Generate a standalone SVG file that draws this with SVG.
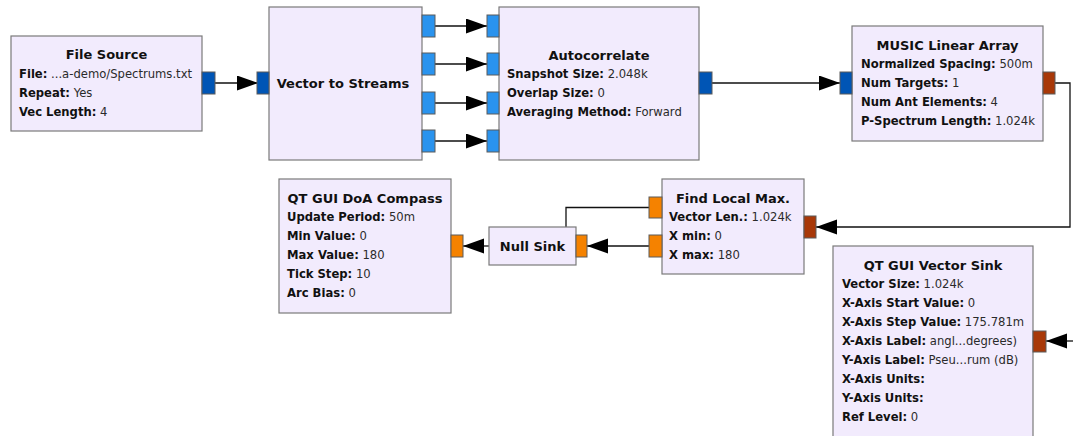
<svg xmlns="http://www.w3.org/2000/svg" width="1073" height="436" viewBox="0 0 1073 436">
<defs>
<style>
.blk{fill:#F2EBFD;stroke:#7a7a7a;stroke-width:1.2}
.p{stroke:#5a5a5a;stroke-width:1}
.cv{fill:#0055B5}
.cs{fill:#2A93EE}
.fs{fill:#F58200}
.fv{fill:#A83808}
.t{font-family:"DejaVu Sans",sans-serif;font-size:13px;font-weight:bold;fill:#111;text-anchor:middle;dominant-baseline:central}
.k{font-family:"DejaVu Sans",sans-serif;font-size:11.6px;fill:#2a2a2a;dominant-baseline:central}
.k tspan.b{font-weight:bold;fill:#111}
.c{fill:none;stroke:#111;stroke-width:1.3}
</style>
<marker id="ah" markerUnits="userSpaceOnUse" markerWidth="22" markerHeight="16" refX="21" refY="7.5" orient="auto" viewBox="0 0 22 16">
<path d="M0,0 L21,7.5 L0,15 z" fill="#000"/>
</marker>
</defs>
<g id="connectors">
<path class="c" d="M215,83 H258" marker-end="url(#ah)"/>
<path class="c" d="M435,26 H487" marker-end="url(#ah)"/>
<path class="c" d="M435,64 H487" marker-end="url(#ah)"/>
<path class="c" d="M435,103 H487" marker-end="url(#ah)"/>
<path class="c" d="M435,141 H487" marker-end="url(#ah)"/>
<path class="c" d="M712,83 H840" marker-end="url(#ah)"/>
<path class="c" d="M1055,83 H1070 V227 H816" marker-end="url(#ah)"/>
<path class="c" d="M649,246 H587" marker-end="url(#ah)"/>
<path class="c" d="M489,246 H463" marker-end="url(#ah)"/>
<path class="c" d="M649,207.5 H566 V227"/>
<path class="c" d="M1073,341 H1046" marker-end="url(#ah)"/>
</g>
<g id="file_source">
<rect class="blk" x="11" y="36" width="191" height="95"/>
<rect class="p cv" x="202" y="72" width="13" height="22"/>
<text class="t" x="106.5" y="54">File Source</text>
<text class="k" x="19" y="74"><tspan class="b">File:</tspan> ...a-demo/Spectrums.txt</text>
<text class="k" x="19" y="93"><tspan class="b">Repeat:</tspan> Yes</text>
<text class="k" x="19" y="112"><tspan class="b">Vec Length:</tspan> 4</text>
</g>
<g id="vector_to_streams">
<rect class="blk" x="269" y="7" width="153" height="153"/>
<rect class="p cv" x="257" y="72" width="12" height="22"/>
<rect class="p cs" x="422" y="15" width="13" height="22"/>
<rect class="p cs" x="422" y="53" width="13" height="22"/>
<rect class="p cs" x="422" y="92" width="13" height="22"/>
<rect class="p cs" x="422" y="130" width="13" height="22"/>
<text class="t" x="343" y="83">Vector to Streams</text>
</g>
<g id="autocorrelate">
<rect class="blk" x="499" y="7" width="200" height="153"/>
<rect class="p cs" x="487" y="15" width="12" height="22"/>
<rect class="p cs" x="487" y="53" width="12" height="22"/>
<rect class="p cs" x="487" y="92" width="12" height="22"/>
<rect class="p cs" x="487" y="130" width="12" height="22"/>
<rect class="p cv" x="699" y="72" width="13" height="22"/>
<text class="t" x="599" y="55">Autocorrelate</text>
<text class="k" x="507" y="74"><tspan class="b">Snapshot Size:</tspan> 2.048k</text>
<text class="k" x="507" y="93"><tspan class="b">Overlap Size:</tspan> 0</text>
<text class="k" x="507" y="112"><tspan class="b">Averaging Method:</tspan> Forward</text>
</g>
<g id="music_linear_array">
<rect class="blk" x="852" y="26" width="191" height="115"/>
<rect class="p cv" x="840" y="72" width="12" height="22"/>
<rect class="p fv" x="1043" y="72" width="12" height="22"/>
<text class="t" x="947.5" y="45">MUSIC Linear Array</text>
<text class="k" x="861" y="64"><tspan class="b">Normalized Spacing:</tspan> 500m</text>
<text class="k" x="861" y="83"><tspan class="b">Num Targets:</tspan> 1</text>
<text class="k" x="861" y="102"><tspan class="b">Num Ant Elements:</tspan> 4</text>
<text class="k" x="861" y="121"><tspan class="b">P-Spectrum Length:</tspan> 1.024k</text>
</g>
<g id="find_local_max">
<rect class="blk" x="662" y="179" width="142" height="95"/>
<rect class="p fs" x="649" y="197" width="13" height="21"/>
<rect class="p fs" x="649" y="235" width="13" height="22"/>
<rect class="p fv" x="804" y="216" width="12" height="22"/>
<text class="t" x="733" y="198">Find Local Max.</text>
<text class="k" x="669" y="217"><tspan class="b">Vector Len.:</tspan> 1.024k</text>
<text class="k" x="669" y="236"><tspan class="b">X min:</tspan> 0</text>
<text class="k" x="669" y="255"><tspan class="b">X max:</tspan> 180</text>
</g>
<g id="null_sink">
<rect class="blk" x="489" y="227" width="87" height="38"/>
<rect class="p fs" x="576" y="235" width="11" height="22"/>
<text class="t" x="532.5" y="246">Null Sink</text>
</g>
<g id="doa_compass">
<rect class="blk" x="279" y="179" width="172" height="134"/>
<rect class="p fs" x="451" y="235" width="12" height="22"/>
<text class="t" x="365" y="198">QT GUI DoA Compass</text>
<text class="k" x="287" y="217"><tspan class="b">Update Period:</tspan> 50m</text>
<text class="k" x="287" y="236"><tspan class="b">Min Value:</tspan> 0</text>
<text class="k" x="287" y="255"><tspan class="b">Max Value:</tspan> 180</text>
<text class="k" x="287" y="274"><tspan class="b">Tick Step:</tspan> 10</text>
<text class="k" x="287" y="293"><tspan class="b">Arc Bias:</tspan> 0</text>
</g>
<g id="vector_sink">
<rect class="blk" x="833" y="246" width="200" height="200"/>
<rect class="p fv" x="1033" y="331" width="13" height="21"/>
<text class="t" x="933" y="265">QT GUI Vector Sink</text>
<text class="k" x="842" y="284"><tspan class="b">Vector Size:</tspan> 1.024k</text>
<text class="k" x="842" y="303"><tspan class="b">X-Axis Start Value:</tspan> 0</text>
<text class="k" x="842" y="322"><tspan class="b">X-Axis Step Value:</tspan> 175.781m</text>
<text class="k" x="842" y="341"><tspan class="b">X-Axis Label:</tspan> angl...degrees)</text>
<text class="k" x="842" y="360"><tspan class="b">Y-Axis Label:</tspan> Pseu...rum (dB)</text>
<text class="k" x="842" y="379"><tspan class="b">X-Axis Units:</tspan></text>
<text class="k" x="842" y="398"><tspan class="b">Y-Axis Units:</tspan></text>
<text class="k" x="842" y="417"><tspan class="b">Ref Level:</tspan> 0</text>
</g>
</svg>
